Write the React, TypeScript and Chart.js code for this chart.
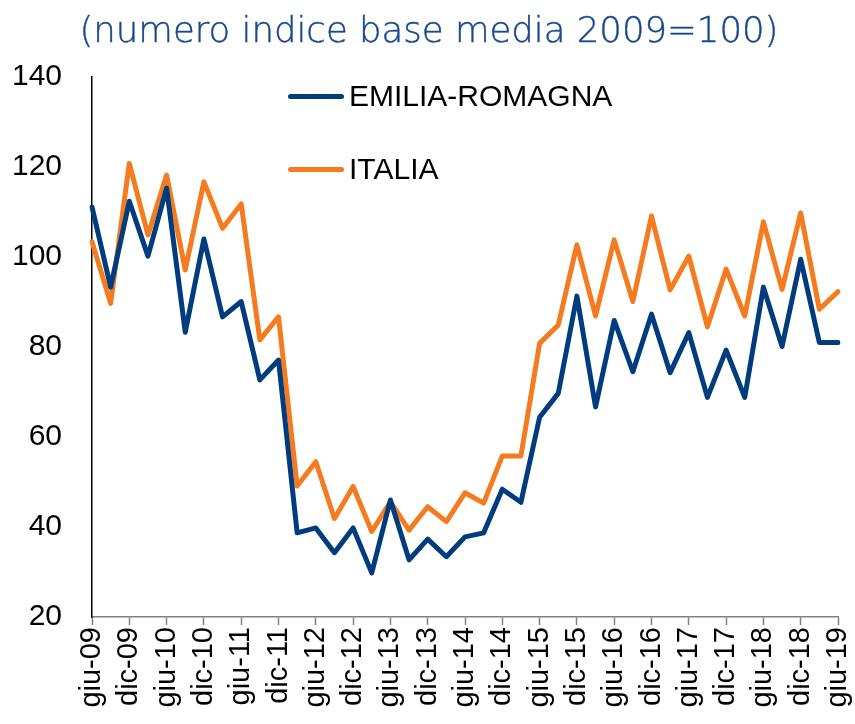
import React, { useEffect, useRef } from "react";
import { Chart, registerables } from "chart.js";

Chart.register(...registerables);

const categories: string[] = [
  "giu-09", "set-09", "dic-09", "mar-10", "giu-10", "set-10", "dic-10", "mar-11",
  "giu-11", "set-11", "dic-11", "mar-12", "giu-12", "set-12", "dic-12", "mar-13",
  "giu-13", "set-13", "dic-13", "mar-14", "giu-14", "set-14", "dic-14", "mar-15",
  "giu-15", "set-15", "dic-15", "mar-16", "giu-16", "set-16", "dic-16", "mar-17",
  "giu-17", "set-17", "dic-17", "mar-18", "giu-18", "set-18", "dic-18", "mar-19",
  "giu-19",
];

const emiliaRomagna: number[] = [
  111.1, 93.3, 112.4, 100.2, 115.3, 83.3, 104.0, 86.7, 90.1, 72.7,
  77.1, 38.7, 39.8, 34.3, 39.8, 29.8, 46.0, 32.7, 37.3, 33.4,
  37.8, 38.7, 48.4, 45.5, 64.4, 69.7, 91.3, 66.7, 85.9, 74.5,
  87.3, 74.3, 83.2, 68.8, 79.3, 68.8, 93.3, 80.1, 99.5, 81.0,
  81.0,
];

const italia: number[] = [
  103.4, 89.7, 120.8, 104.9, 118.2, 97.1, 116.7, 106.4, 111.8, 81.6,
  86.7, 49.1, 54.5, 41.9, 49.0, 39.0, 45.6, 39.3, 44.5, 41.2,
  47.6, 45.3, 55.8, 55.8, 80.8, 84.9, 102.7, 86.9, 103.8, 90.1,
  109.1, 92.7, 100.2, 84.5, 97.3, 86.9, 107.8, 92.8, 109.8, 88.4,
  92.3,
];

const yTicks: number[] = [20, 40, 60, 80, 100, 120, 140];

const seriesNames: string[] = ["EMILIA-ROMAGNA", "ITALIA"];
const seriesColors: string[] = ["#003C7E", "#F47B20"];
const titleText = "(numero indice base media 2009=100)";

export default function App() {
  const canvasRef = useRef<HTMLCanvasElement | null>(null);

  useEffect(() => {
    if (!canvasRef.current) return;
    const chart = new Chart(canvasRef.current, {
      type: "line",
      data: {
        labels: categories,
        datasets: [
          {
            label: seriesNames[0],
            data: emiliaRomagna,
            borderColor: seriesColors[0],
            backgroundColor: seriesColors[0],
            borderWidth: 5,
            pointRadius: 0,
            tension: 0,
            borderJoinStyle: "round",
            borderCapStyle: "round",
          },
          {
            label: seriesNames[1],
            data: italia,
            borderColor: seriesColors[1],
            backgroundColor: seriesColors[1],
            borderWidth: 5,
            pointRadius: 0,
            tension: 0,
            borderJoinStyle: "round",
            borderCapStyle: "round",
          },
        ],
      },
      options: {
        animation: false,
        responsive: false,
        maintainAspectRatio: false,
        layout: { padding: { left: 0, right: 17, top: 77, bottom: 0 } },
        plugins: {
          legend: { display: false },
          title: { display: false },
          tooltip: { enabled: false },
        },
        scales: {
          x: {
            type: "category",
            offset: false,
            grid: {
              display: true,
              drawOnChartArea: false,
              drawTicks: true,
              tickLength: 8,
              tickColor: (ctx: any) => (ctx.index % 2 === 0 ? "#808080" : "rgba(0,0,0,0)"),
              tickWidth: 1.5,
            },
            border: { display: true, color: "#808080", width: 1.5 },
            ticks: {
              autoSkip: false,
              maxRotation: 90,
              minRotation: 90,
              padding: 2,
              color: "#000",
              font: { family: "Liberation Sans, Arial, sans-serif", size: 29 },
              callback: (_v: any, i: number) => (i % 2 === 0 ? categories[i] : ""),
            },
            afterFit: (scale: any) => {
              scale.height = 107;
              scale.paddingLeft = 0;
              scale.paddingRight = 0;
            },
          },
          y: {
            min: yTicks[0],
            max: yTicks[yTicks.length - 1],
            grid: { display: false, drawTicks: false },
            border: { display: true, color: "#000", width: 1.5 },
            afterBuildTicks: (scale: any) => {
              scale.ticks = yTicks.map((v) => ({ value: v }));
            },
            ticks: {
              padding: 30,
              color: "#000",
              font: { family: "Liberation Sans, Arial, sans-serif", size: 30 },
            },
            afterFit: (scale: any) => {
              scale.width = 92;
            },
          },
        },
      },
    });
    return () => chart.destroy();
  }, []);

  const legendItem = (i: number, top: number) => (
    <div
      key={i}
      style={{
        position: "absolute",
        left: 288,
        top: top - 20,
        height: 40,
        display: "flex",
        alignItems: "center",
      }}
    >
      <div
        style={{
          width: 56,
          height: 5,
          borderRadius: 3,
          background: seriesColors[i],
          marginRight: 5,
        }}
      />
      <span
        style={{
          fontFamily: "Liberation Sans, Arial, sans-serif",
          fontSize: 30,
          color: "#000",
          lineHeight: "40px",
        }}
      >
        {seriesNames[i]}
      </span>
    </div>
  );

  return (
    <div
      style={{
        position: "fixed",
        left: 0,
        top: 0,
        width: 855,
        height: 724,
        background: "#fff",
        overflow: "hidden",
      }}
    >
      <canvas ref={canvasRef} width={855} height={724} style={{ display: "block" }} />
      <div
        style={{
          position: "absolute",
          left: 0,
          width: 858,
          top: 8,
          textAlign: "center",
          fontFamily: "'DejaVu Sans', sans-serif",
          fontWeight: 200,
          fontSize: 35.5,
          color: "#174A8C",
          lineHeight: "44px",
          whiteSpace: "nowrap",
          WebkitTextStroke: "0.4px #174A8C",
        }}
      >
        {titleText}
      </div>
      {legendItem(0, 96)}
      {legendItem(1, 169)}
    </div>
  );
}
